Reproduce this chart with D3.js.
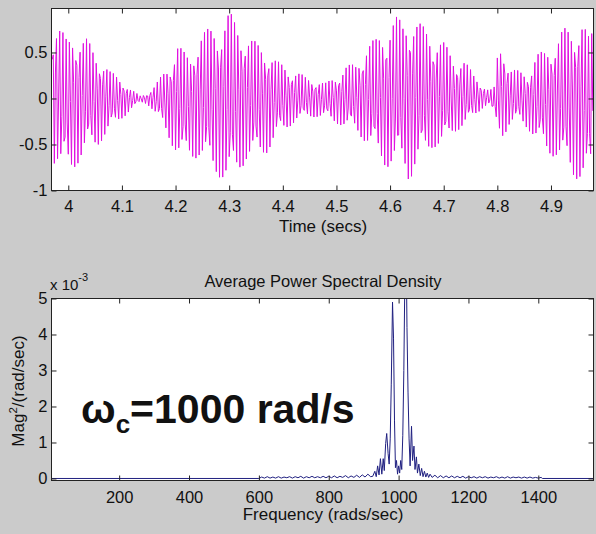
<!DOCTYPE html>
<html>
<head>
<meta charset="utf-8">
<script src="https://cdn.jsdelivr.net/npm/d3@7"></script>
<style>
body { margin: 0; background: #cbcbcb; }
svg { display: block; }
text { font-family: "Liberation Sans", Arial, sans-serif; fill: #111; }
</style>
</head>
<body>
<div id="grafica"></div>
<script>
var envT = [3.9677, 3.9715, 3.9808, 3.9883, 3.9976, 4.0069, 4.0162, 4.0255, 4.0349, 4.0442,
  4.0535, 4.0647, 4.0778, 4.0964, 4.1151, 4.1337, 4.1467, 4.1579, 4.1766, 4.1896,
  4.2027, 4.2139, 4.2269, 4.2456, 4.2642, 4.2829, 4.2997, 4.3146, 4.3332, 4.3519,
  4.3705, 4.3892, 4.4078, 4.4265, 4.4433, 4.4619, 4.4806, 4.4992, 4.5179, 4.5365,
  4.5552, 4.5738, 4.5925, 4.6111, 4.6242, 4.6354, 4.6484, 4.6615, 4.6801, 4.6988,
  4.7174, 4.7361, 4.7547, 4.7734, 4.7846, 4.7939, 4.8014, 4.8107, 4.8219, 4.8405,
  4.8592, 4.8722, 4.8909, 4.9095, 4.9226, 4.9412, 4.9561, 4.9710, 4.9804];
var envUp = [0.50, 0.92, 0.87, 0.75, 0.63, 0.70, 0.72, 0.68, 0.66, 0.55,
  0.47, 0.43, 0.30, 0.22, 0.11, 0.03, 0.05, 0.12, 0.27, 0.36,
  0.65, 0.52, 0.43, 0.74, 0.76, 0.79, 0.96, 0.81, 0.71, 0.60,
  0.55, 0.41, 0.34, 0.30, 0.23, 0.20, 0.17, 0.25, 0.36, 0.38,
  0.60, 0.65, 0.79, 0.90, 0.83, 0.96, 0.87, 0.79, 0.71, 0.63,
  0.45, 0.45, 0.27, 0.16, 0.09, 0.12, 0.55, 0.66, 0.34, 0.30,
  0.28, 0.49, 0.52, 0.66, 0.77, 0.74, 0.92, 0.66, 0.80];
var envDn = [0.55, 0.71, 0.71, 0.80, 0.84, 0.80, 0.72, 0.65, 0.57, 0.55,
  0.53, 0.44, 0.35, 0.24, 0.14, 0.04, 0.06, 0.13, 0.31, 0.46,
  0.62, 0.71, 0.66, 0.64, 0.78, 0.86, 0.95, 0.83, 0.67, 0.67,
  0.59, 0.43, 0.33, 0.24, 0.21, 0.20, 0.22, 0.27, 0.32, 0.35,
  0.49, 0.60, 0.75, 0.75, 0.71, 0.91, 0.75, 0.64, 0.53, 0.53,
  0.38, 0.31, 0.21, 0.10, 0.06, 0.20, 0.35, 0.42, 0.30, 0.24,
  0.35, 0.46, 0.60, 0.64, 0.71, 0.86, 0.89, 0.92, 0.92];
var wc = 1000;   // rad/s
var fs = 500;    // muestras/s
var timeTicks = [4, 4.1, 4.2, 4.3, 4.4, 4.5, 4.6, 4.7, 4.8, 4.9];
var ampTicks = [-1, -0.5, 0, 0.5];

// densidad espectral promedio (x 10^-3)
var psdW = [6.3, 600, 608, 616, 624, 632, 640, 648, 656, 664, 672, 680, 688, 696, 704, 712,
  720, 728, 736, 744, 752, 760, 768, 776, 784, 792, 800, 808, 816, 824, 832, 840,
  848, 856, 864, 872, 880, 888, 896, 904, 912, 920, 926, 932, 936, 940, 944, 948,
  952, 956, 959, 963, 966, 970, 973, 976, 979, 982.6, 985.5, 988.3, 991, 994, 997,
  1000, 1003, 1006, 1009, 1012, 1015, 1018, 1021, 1024, 1027, 1030, 1033, 1037,
  1040, 1044, 1047, 1051, 1054, 1058, 1062, 1066, 1070, 1074, 1078, 1082, 1086, 1090,
  1096, 1104, 1112, 1120, 1128, 1136, 1144, 1152, 1160, 1168, 1176, 1184, 1192, 1200,
  1208, 1216, 1224, 1232, 1240, 1248, 1256, 1264, 1272, 1280, 1288, 1296, 1304, 1312,
  1320, 1328, 1336, 1344, 1352, 1360, 1368, 1376, 1384, 1392, 1400, 1408, 1412, 1558];
var psdMag = [0, 0, 0.04, 0.01, 0.05, 0.01, 0.04, 0.01, 0.05, 0.01, 0.04, 0.02, 0.05, 0.01, 0.05, 0.02,
  0.06, 0.01, 0.05, 0.02, 0.06, 0.02, 0.05, 0.02, 0.06, 0.02, 0.06, 0.02, 0.07, 0.02, 0.06, 0.03,
  0.08, 0.02, 0.07, 0.03, 0.09, 0.03, 0.10, 0.04, 0.12, 0.05, 0.06, 0.20, 0.05, 0.35, 0.10, 0.55,
  0.12, 0.55, 0.22, 0.97, 1.25, 0.69, 0.40, 1.10, 2.60, 4.90, 3.90, 1.60, 0.30, 0.50, 0.12,
  0.35, 0.15, 0.50, 0.25, 1.20, 3.00, 5.60, 7.20, 4.20, 2.40, 1.10, 0.35, 1.45,
  0.50, 0.90, 0.25, 0.60, 0.15, 0.40, 0.08, 0.28, 0.05, 0.20, 0.04, 0.15, 0.03, 0.12,
  0.03, 0.09, 0.02, 0.08, 0.02, 0.07, 0.02, 0.07, 0.02, 0.06, 0.02, 0.06, 0.01, 0.05,
  0.02, 0.05, 0.01, 0.05, 0.02, 0.05, 0.01, 0.04, 0.02, 0.05, 0.01, 0.04, 0.01, 0.05,
  0.01, 0.04, 0.02, 0.04, 0.01, 0.04, 0.01, 0.04, 0.01, 0.03, 0.01, 0.03, 0, 0];
var freqTicks = [200, 400, 600, 800, 1000, 1200, 1400];
var magTicks = [0, 1, 2, 3, 4, 5];

var svg = d3.select("#grafica").append("svg")
  .attr("width", 596)
  .attr("height", 534);

var fmt = function(d) { return String(d); };
var tickFont = 16.5;
var labelFont = 17;

function marco(g, x, y, xt, yt, xpad) {
  var x0 = x.range()[0], x1 = x.range()[1], y0 = y.range()[0], y1 = y.range()[1];
  g.append("rect").attr("x", x0).attr("y", y1).attr("width", x1 - x0).attr("height", y0 - y1)
    .attr("fill", "none").attr("stroke", "#222").attr("stroke-width", 1);
  var ab = g.append("g").attr("transform", "translate(0," + y0 + ")")
    .call(d3.axisBottom(x).tickValues(xt).tickSizeInner(-5).tickSizeOuter(0).tickPadding(xpad).tickFormat(fmt));
  var at = g.append("g").attr("transform", "translate(0," + y1 + ")")
    .call(d3.axisTop(x).tickValues(xt).tickSizeInner(-5).tickSizeOuter(0).tickFormat(""));
  var al = g.append("g").attr("transform", "translate(" + x0 + ",0)")
    .call(d3.axisLeft(y).tickValues(yt).tickSizeInner(-5).tickSizeOuter(0).tickPadding(4).tickFormat(fmt));
  var ar = g.append("g").attr("transform", "translate(" + x1 + ",0)")
    .call(d3.axisRight(y).tickValues(yt).tickSizeInner(-5).tickSizeOuter(0).tickFormat(""));
  [ab, at, al, ar].forEach(function(a) {
    a.select(".domain").remove();
    a.selectAll("line").attr("stroke", "#222");
    a.selectAll("text").attr("font-size", tickFont).attr("fill", "#111")
      .attr("font-family", "Liberation Sans, Arial, sans-serif");
  });
}

// ---- grafica de tiempo ----
var xT = d3.scaleLinear().domain([3.9687, 4.9793]).range([51.5, 593.5]);
var yT = d3.scaleLinear().domain([-1, 0.978]).range([190.5, 8.5]);
var up = d3.scaleLinear().domain(envT).range(envUp).clamp(true);
var dn = d3.scaleLinear().domain(envT).range(envDn).clamp(true);

var muestras = d3.range(Math.ceil(3.9687 * fs), Math.floor(4.9793 * fs) + 1).map(function(n) {
  var t = n / fs, c = Math.cos(wc * t);
  return [t, c * (c >= 0 ? up(t) : dn(t))];
});

svg.append("rect").attr("x", 51.5).attr("y", 8.5).attr("width", 542).attr("height", 182).attr("fill", "#fff");
svg.append("clipPath").attr("id", "c1").append("rect").attr("x", 51.5).attr("y", 8.5).attr("width", 542).attr("height", 182);
svg.append("path")
  .datum(muestras)
  .attr("clip-path", "url(#c1)")
  .attr("fill", "none")
  .attr("stroke", "#e010e0")
  .attr("stroke-width", 1)
  .attr("d", d3.line().x(function(d) { return xT(d[0]); }).y(function(d) { return yT(d[1]); }));
marco(svg.append("g"), xT, yT, timeTicks, ampTicks, 9.5);

svg.append("text").attr("x", 323).attr("y", 232).attr("text-anchor", "middle")
  .attr("font-size", labelFont).text("Time (secs)");

// ---- grafica PSD ----
var xF = d3.scaleLinear().domain([6.3, 1558]).range([51.5, 593.5]);
var yF = d3.scaleLinear().domain([-0.056, 5]).range([480.5, 298.5]);

svg.append("rect").attr("x", 51.5).attr("y", 298.5).attr("width", 542).attr("height", 182).attr("fill", "#fff");
svg.append("clipPath").attr("id", "c2").append("rect").attr("x", 51.5).attr("y", 298.5).attr("width", 542).attr("height", 182);
svg.append("path")
  .datum(d3.zip(psdW, psdMag))
  .attr("clip-path", "url(#c2)")
  .attr("fill", "none")
  .attr("stroke", "#202080")
  .attr("stroke-width", 1)
  .attr("d", d3.line().x(function(d) { return xF(d[0]); }).y(function(d) { return yF(d[1]); }));
marco(svg.append("g"), xF, yF, freqTicks, magTicks, 10.5);

svg.append("text").attr("x", 323).attr("y", 287).attr("text-anchor", "middle")
  .attr("font-size", 16.5).text("Average Power Spectral Density");

var exp = svg.append("text").attr("x", 50).attr("y", 290).attr("font-size", 15);
exp.append("tspan").text("x 10");
exp.append("tspan").attr("dy", -9).attr("font-size", 11).text("-3");

svg.append("text").attr("x", 323).attr("y", 520).attr("text-anchor", "middle")
  .attr("font-size", labelFont).text("Frequency (rads/sec)");

var yl = svg.append("text").attr("transform", "translate(24,391) rotate(-90)")
  .attr("text-anchor", "middle").attr("font-size", labelFont);
yl.append("tspan").text("Mag");
yl.append("tspan").attr("dy", -7).attr("font-size", 11.5).text("2");
yl.append("tspan").attr("dy", 7).text("/(rad/sec)");

var wl = svg.append("text").attr("x", 81).attr("y", 423)
  .attr("font-size", 41).attr("font-weight", "bold").attr("fill", "#000");
wl.append("tspan").text("\u03c9");
wl.append("tspan").attr("dy", 10).attr("font-size", 26).text("c");
wl.append("tspan").attr("dy", -10).text("=1000 rad/s");
</script>
</body>
</html>
